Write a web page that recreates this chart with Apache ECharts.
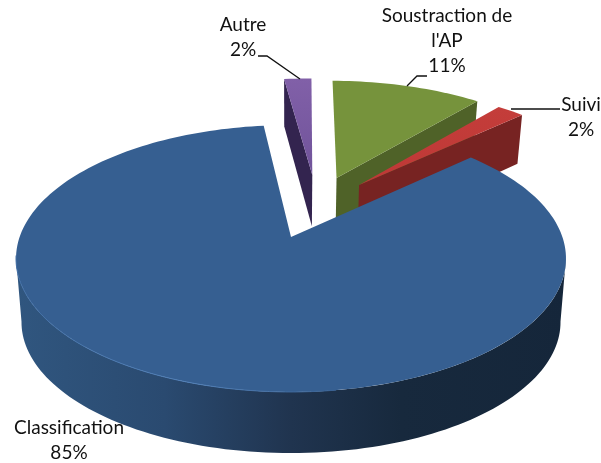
<!DOCTYPE html>
<html>
<head>
<meta charset="utf-8">
<style>html,body{margin:0;padding:0;background:#fff}#c{width:601px;height:463px}</style>
<script src="https://cdn.jsdelivr.net/npm/echarts@6/dist/echarts.min.js"></script>
</head>
<body>
<div id="c"></div>
<script>
// --- data ---
const categories = ['Classification', 'Autre', "Soustraction de\nl'AP", 'Suivi'];
const shares = [85, 2, 11, 2];

// --- look ---
const topColors = [
  '#365f91',
  ['#8160a8', '#70539a'],
  ['#76933c', '#76933c'],
  ['#c43d3a', '#be3836']
];
const wallColors = ['#15263a', '#33244f', '#4f6228', '#772322'];
const drawOrder = [1, 2, 3, 0];

// --- 3D pie projection (plane coordinates -> screen) ---
const view = {
  cx: 291, k: 0.161,
  top: { y: 237, a: 271.4, b: 130 },
  bottom: { y: 291, a: 266, b: 135.7 },
  bottomMain: { y: 301, a: 266, b: 127.6 }
};
const startAngle = 47.3;
const explode = [[0, 0], [0.085, -0.517], [0.181, -0.49], [0.268, -0.4275]];
const labelPos = [[69, 440], [243, 37], [447, 41], [581, 117]];
const leaders = [null, [[258, 56], [267, 56], [300, 79]], [[427, 76], [417, 76], [407, 86]], [[560, 109], [511, 109]]];

function project(u, v, plane) {
  const w = 1 - view.k * v;
  return [view.cx + plane.a * u / w, plane.y + plane.b * v / w];
}
function rim(off, deg, plane) {
  const t = deg * Math.PI / 180;
  return project(off[0] + Math.sin(t), off[1] - Math.cos(t), plane);
}
function arc(off, from, to, plane) {
  const pts = [], n = Math.max(2, Math.ceil(Math.abs(to - from) / 1.5));
  for (let i = 0; i <= n; i++) pts.push(rim(off, from + (to - from) * i / n, plane));
  return pts;
}
const G = (x0, y0, x1, y1, stops) =>
  new echarts.graphic.LinearGradient(x0, y0, x1, y1, stops.map((c) => ({ offset: c[0], color: c[1] })));

function renderSlice(params, api) {
  const i = params.dataIndex;
  const total = shares.reduce((a, b) => a + b, 0);
  const before = shares.slice(0, i).reduce((a, b) => a + b, 0);
  const a0 = startAngle + before / total * 360;
  const a1 = a0 + api.value(0) / total * 360;
  const off = explode[i];
  const apexT = project(off[0], off[1], view.top);
  const apexB = project(off[0], off[1], view.bottom);
  const z = drawOrder.indexOf(i) * 10;
  const children = [];

  if (i === 0) {
    // outer wall of the big slice, between the two silhouette tangents
    const front = arc(off, 99, 261, view.top).concat(arc(off, 261, 99, view.bottomMain));
    children.push({
      type: 'polygon', z2: z, shape: { points: front },
      style: { fill: G(1, 0, 0, 0, [[0, '#15263a'], [0.3, '#17293d'], [0.5, '#20344f'], [0.73, '#2a4a70'], [1, '#30567f']]) }
    });
  } else {
    // cut wall facing the viewer
    const edge = i === 1 ? a0 : a1;
    children.push({
      type: 'polygon', z2: z,
      shape: { points: [apexT, rim(off, edge, view.top), rim(off, edge, view.bottom), apexB] },
      style: { fill: wallColors[i] }
    });
  }
  const c = topColors[i];
  children.push({
    type: 'polygon', z2: z + 1,
    shape: { points: [apexT].concat(arc(off, a0, a1, view.top)) },
    style: { fill: Array.isArray(c) ? G(0, 0, 0, 1, [[0, c[0]], [1, c[1]]]) : c }
  });
  if (i === 0) {
    children.push({
      type: 'polyline', z2: z + 2,
      shape: { points: arc(off, 172, 262, view.top) },
      style: { fill: null, lineWidth: 1, stroke: G(1, 0, 0, 0, [[0, '#365f91'], [0.45, '#5180b8'], [1, '#3f6ca3']]) }
    });
  }
  if (leaders[i]) {
    children.push({
      type: 'polyline', z2: 60, shape: { points: leaders[i] },
      style: { fill: null, stroke: '#111', lineWidth: 1.3 }
    });
  }
  children.push({
    type: 'text', z2: 70, x: labelPos[i][0], y: labelPos[i][1],
    style: {
      text: categories[i] + '\n' + api.value(0) + '%',
      x: 0, y: 0, align: 'center', verticalAlign: 'middle',
      font: '19px Lato, Carlito, sans-serif', lineHeight: 25, fill: '#111'
    }
  });
  return { type: 'group', children };
}

const chart = echarts.init(document.getElementById('c'), null, { renderer: 'canvas' });
chart.setOption({
  animation: false,
  backgroundColor: '#ffffff',
  series: [{
    type: 'custom',
    coordinateSystem: 'none',
    silent: true,
    renderItem: renderSlice,
    data: shares.map((s, i) => ({ name: categories[i], value: [s] }))
  }]
});
</script>
</body>
</html>
